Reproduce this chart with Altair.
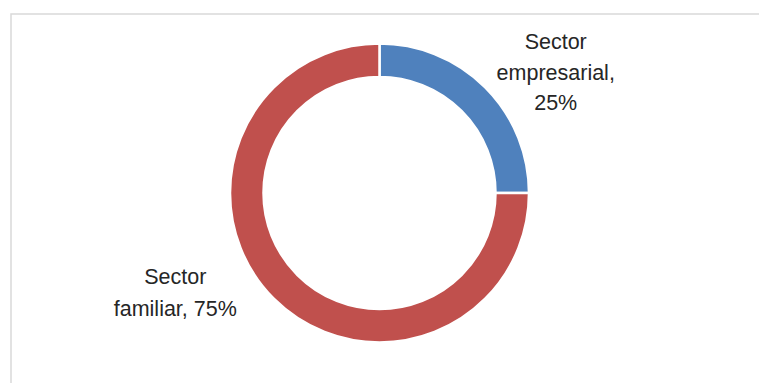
import altair as alt
import pandas as pd

categories = ["Sector empresarial", "Sector familiar"]
values = [25, 75]
colors = ["#4F81BD", "#C0504D"]
label_lines = [["Sector", "empresarial,", "25%"], ["Sector", "familiar, 75%"]]

df = pd.DataFrame({
    "idx": list(range(len(categories))),
    "category": categories,
    "value": values,
    "label": ["\n".join(l) for l in label_lines],
})

total = sum(values)
theta_scale = alt.Scale(domain=[0, total])

base = alt.Chart(df)

frame = base.mark_rect(fill=None, stroke="#D9D9D9", strokeWidth=1.5).encode(
    x=alt.value(11), x2=alt.value(900), y=alt.value(11), y2=alt.value(600)
).transform_filter("datum.idx == 0")

arcs = base.mark_arc(innerRadius=116, outerRadius=149.5, stroke="white", strokeWidth=2.5).encode(
    theta=alt.Theta("value:Q", stack=True, scale=theta_scale),
    color=alt.Color("category:N", scale=alt.Scale(domain=categories, range=colors), legend=None),
    order=alt.Order("idx:Q"),
)

labelled = base.transform_window(
    cum="sum(value)", sort=[alt.SortField("idx")]
).transform_calculate(mid="datum.cum - datum.value / 2")

def label_layer(i, dx, dy, lh):
    return labelled.transform_filter(f"datum.idx == {i}").mark_text(
        radius=170, dx=dx, dy=dy, align="center", baseline="middle",
        lineBreak="\n", lineHeight=lh, font="Liberation Sans", fontSize=21.5,
        color="#262626",
    ).encode(
        theta=alt.Theta("mid:Q", stack=None, scale=theta_scale),
        text="label:N",
    )

chart = alt.layer(
    frame, arcs, label_layer(0, 56, -29.5, 30.5), label_layer(1, -84, -35.5, 32)
).properties(
    width=759, height=380, padding={"top": 3, "left": 0, "right": 0, "bottom": 0},
    autosize=alt.AutoSizeParams(type="none"),
).configure_view(stroke=None)

chart.save("out.html", embed_options={"renderer": "svg", "actions": False})
